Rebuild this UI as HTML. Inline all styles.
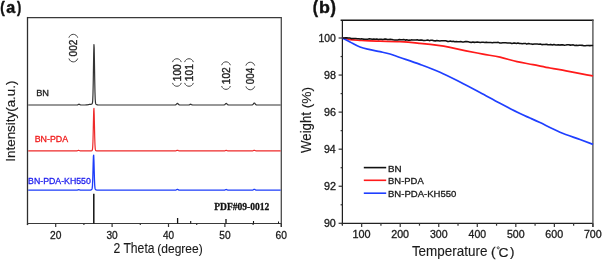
<!DOCTYPE html>
<html><head><meta charset="utf-8"><style>
html,body{margin:0;padding:0;background:#fff;}
svg{display:block;will-change:transform;}
</style></head><body>
<svg width="602" height="260" viewBox="0 0 602 260">
<line x1="27.5" y1="17.6" x2="281.3" y2="17.6" stroke="#3a3a3a" stroke-width="1.3"/>
<line x1="27.5" y1="16.95" x2="27.5" y2="225.0" stroke="#2e2e2e" stroke-width="1.3"/>
<line x1="27.0" y1="223.5" x2="281.3" y2="223.5" stroke="#3a3a3a" stroke-width="1.2"/>
<line x1="281.3" y1="16.95" x2="281.3" y2="227.0" stroke="#4a4a4a" stroke-width="1.3"/>
<line x1="27.50" y1="223.5" x2="27.50" y2="225.10" stroke="#333" stroke-width="1.2"/>
<line x1="55.70" y1="223.5" x2="55.70" y2="227.00" stroke="#333" stroke-width="1.2"/>
<line x1="83.90" y1="223.5" x2="83.90" y2="225.10" stroke="#333" stroke-width="1.2"/>
<line x1="112.10" y1="223.5" x2="112.10" y2="227.00" stroke="#333" stroke-width="1.2"/>
<line x1="140.30" y1="223.5" x2="140.30" y2="225.10" stroke="#333" stroke-width="1.2"/>
<line x1="168.50" y1="223.5" x2="168.50" y2="227.00" stroke="#333" stroke-width="1.2"/>
<line x1="196.70" y1="223.5" x2="196.70" y2="225.10" stroke="#333" stroke-width="1.2"/>
<line x1="224.90" y1="223.5" x2="224.90" y2="227.00" stroke="#333" stroke-width="1.2"/>
<line x1="253.10" y1="223.5" x2="253.10" y2="225.10" stroke="#333" stroke-width="1.2"/>
<line x1="281.30" y1="223.5" x2="281.30" y2="227.00" stroke="#333" stroke-width="1.2"/>
<text transform="matrix(0.9553 0 0 1 49.934 238.600)" font-family="Liberation Sans, sans-serif" font-weight="normal" font-size="10.745" fill="#1a1a1a" stroke="#1a1a1a" stroke-width="0.30">20</text>
<text transform="matrix(0.9440 0 0 1 106.464 238.600)" font-family="Liberation Sans, sans-serif" font-weight="normal" font-size="10.745" fill="#1a1a1a" stroke="#1a1a1a" stroke-width="0.30">30</text>
<text transform="matrix(0.9304 0 0 1 163.021 238.600)" font-family="Liberation Sans, sans-serif" font-weight="normal" font-size="10.745" fill="#1a1a1a" stroke="#1a1a1a" stroke-width="0.30">40</text>
<text transform="matrix(0.9458 0 0 1 219.243 238.600)" font-family="Liberation Sans, sans-serif" font-weight="normal" font-size="10.745" fill="#1a1a1a" stroke="#1a1a1a" stroke-width="0.30">50</text>
<text transform="matrix(0.9557 0 0 1 275.529 238.600)" font-family="Liberation Sans, sans-serif" font-weight="normal" font-size="10.745" fill="#1a1a1a" stroke="#1a1a1a" stroke-width="0.30">60</text>
<path d="M28.20 105.00 L28.45 105.00 L28.70 105.00 L28.95 105.00 L29.20 105.00 L29.45 105.00 L29.70 105.00 L29.95 105.00 L30.20 105.00 L30.45 105.00 L30.70 105.00 L30.95 105.00 L31.20 105.00 L31.45 105.00 L31.70 105.00 L31.95 105.00 L32.20 105.00 L32.45 105.00 L32.70 105.00 L32.95 105.00 L33.20 105.00 L33.45 105.00 L33.70 105.00 L33.95 105.00 L34.20 105.00 L34.45 105.00 L34.70 105.00 L34.95 105.00 L35.20 105.00 L35.45 105.00 L35.70 105.00 L35.95 105.00 L36.20 105.00 L36.45 105.00 L36.70 105.00 L36.95 105.00 L37.20 105.00 L37.45 105.00 L37.70 105.00 L37.95 105.00 L38.20 105.00 L38.45 105.00 L38.70 105.00 L38.95 105.00 L39.20 105.00 L39.45 105.00 L39.70 105.00 L39.95 105.00 L40.20 105.00 L40.45 105.00 L40.70 105.00 L40.95 105.00 L41.20 105.00 L41.45 105.00 L41.70 105.00 L41.95 105.00 L42.20 105.00 L42.45 105.00 L42.70 105.00 L42.95 105.00 L43.20 105.00 L43.45 105.00 L43.70 105.00 L43.95 105.00 L44.20 105.00 L44.45 105.00 L44.70 105.00 L44.95 105.00 L45.20 105.00 L45.45 105.00 L45.70 105.00 L45.95 105.00 L46.20 105.00 L46.45 105.00 L46.70 105.00 L46.95 105.00 L47.20 105.00 L47.45 105.00 L47.70 105.00 L47.95 105.00 L48.20 105.00 L48.45 105.00 L48.70 105.00 L48.95 105.00 L49.20 105.00 L49.45 105.00 L49.70 105.00 L49.95 105.00 L50.20 105.00 L50.45 105.00 L50.70 105.00 L50.95 105.00 L51.20 105.00 L51.45 105.00 L51.70 105.00 L51.95 105.00 L52.20 105.00 L52.45 105.00 L52.70 105.00 L52.95 105.00 L53.20 105.00 L53.45 105.00 L53.70 105.00 L53.95 105.00 L54.20 105.00 L54.45 105.00 L54.70 105.00 L54.95 105.00 L55.20 105.00 L55.45 105.00 L55.70 105.00 L55.95 105.00 L56.20 105.00 L56.45 105.00 L56.70 105.00 L56.95 105.00 L57.20 105.00 L57.45 105.00 L57.70 105.00 L57.95 105.00 L58.20 105.00 L58.45 105.00 L58.70 105.00 L58.95 105.00 L59.20 105.00 L59.45 105.00 L59.70 105.00 L59.95 105.00 L60.20 105.00 L60.45 105.00 L60.70 105.00 L60.95 105.00 L61.20 105.00 L61.45 105.00 L61.70 105.00 L61.95 105.00 L62.20 105.00 L62.45 105.00 L62.70 105.00 L62.95 105.00 L63.20 105.00 L63.45 105.00 L63.70 105.00 L63.95 105.00 L64.20 105.00 L64.45 105.00 L64.70 105.00 L64.95 105.00 L65.20 105.00 L65.45 105.00 L65.70 105.00 L65.95 105.00 L66.20 105.00 L66.45 105.00 L66.70 105.00 L66.95 105.00 L67.20 105.00 L67.45 105.00 L67.70 105.00 L67.95 105.00 L68.20 105.00 L68.45 105.00 L68.70 105.00 L68.95 105.00 L69.20 105.00 L69.45 105.00 L69.70 105.00 L69.95 105.00 L70.20 105.00 L70.45 105.00 L70.70 105.00 L70.95 105.00 L71.20 105.00 L71.45 105.00 L71.70 105.00 L71.95 105.00 L72.20 105.00 L72.45 105.00 L72.70 105.00 L72.95 105.00 L73.20 105.00 L73.45 105.00 L73.70 105.00 L73.95 105.00 L74.20 105.00 L74.45 105.00 L74.70 105.00 L74.95 105.00 L75.20 105.00 L75.45 105.00 L75.70 105.00 L75.95 105.00 L76.20 105.00 L76.45 105.00 L76.70 105.00 L76.95 104.99 L77.20 104.97 L77.45 104.93 L77.70 104.85 L77.95 104.73 L78.20 104.58 L78.45 104.41 L78.70 104.27 L78.95 104.20 L79.20 104.23 L79.45 104.35 L79.70 104.51 L79.95 104.68 L80.20 104.81 L80.45 104.90 L80.70 104.96 L80.95 104.98 L81.20 104.99 L81.45 105.00 L81.70 105.00 L81.95 105.00 L82.20 105.00 L82.45 105.00 L82.70 105.00 L82.95 105.00 L83.20 105.00 L83.45 105.00 L83.70 105.00 L83.95 105.00 L84.20 105.00 L84.45 105.00 L84.70 104.99 L84.95 104.99 L85.20 104.98 L85.45 104.98 L85.70 104.97 L85.95 104.96 L86.20 104.94 L86.45 104.92 L86.70 104.89 L86.95 104.86 L87.20 104.83 L87.45 104.79 L87.70 104.74 L87.95 104.69 L88.20 104.64 L88.45 104.59 L88.70 104.54 L88.95 104.49 L89.20 104.45 L89.45 104.42 L89.70 104.39 L89.95 104.37 L90.20 104.35 L90.45 104.33 L90.70 104.31 L90.95 104.29 L91.20 104.24 L91.45 104.18 L91.70 104.08 L91.95 103.94 L92.20 103.65 L92.45 102.85 L92.70 100.60 L92.95 95.08 L93.20 84.40 L93.45 68.83 L93.70 53.04 L93.95 44.61 L94.20 48.41 L94.45 62.19 L94.70 78.69 L94.95 91.61 L95.20 99.07 L95.45 102.42 L95.70 103.68 L95.95 104.16 L96.20 104.39 L96.45 104.55 L96.70 104.68 L96.95 104.77 L97.20 104.85 L97.45 104.90 L97.70 104.93 L97.95 104.96 L98.20 104.98 L98.45 104.99 L98.70 104.99 L98.95 105.00 L99.20 105.00 L99.45 105.00 L99.70 105.00 L99.95 105.00 L100.20 105.00 L100.45 105.00 L100.70 105.00 L100.95 105.00 L101.20 105.00 L101.45 105.00 L101.70 105.00 L101.95 105.00 L102.20 105.00 L102.45 105.00 L102.70 105.00 L102.95 105.00 L103.20 105.00 L103.45 105.00 L103.70 105.00 L103.95 105.00 L104.20 105.00 L104.45 105.00 L104.70 105.00 L104.95 105.00 L105.20 105.00 L105.45 105.00 L105.70 105.00 L105.95 105.00 L106.20 105.00 L106.45 105.00 L106.70 105.00 L106.95 105.00 L107.20 105.00 L107.45 105.00 L107.70 105.00 L107.95 105.00 L108.20 105.00 L108.45 105.00 L108.70 105.00 L108.95 105.00 L109.20 105.00 L109.45 105.00 L109.70 105.00 L109.95 105.00 L110.20 105.00 L110.45 105.00 L110.70 105.00 L110.95 105.00 L111.20 105.00 L111.45 105.00 L111.70 105.00 L111.95 105.00 L112.20 105.00 L112.45 105.00 L112.70 105.00 L112.95 105.00 L113.20 105.00 L113.45 105.00 L113.70 105.00 L113.95 105.00 L114.20 105.00 L114.45 105.00 L114.70 105.00 L114.95 105.00 L115.20 105.00 L115.45 105.00 L115.70 105.00 L115.95 105.00 L116.20 105.00 L116.45 105.00 L116.70 105.00 L116.95 105.00 L117.20 105.00 L117.45 105.00 L117.70 105.00 L117.95 105.00 L118.20 105.00 L118.45 105.00 L118.70 105.00 L118.95 105.00 L119.20 105.00 L119.45 105.00 L119.70 105.00 L119.95 105.00 L120.20 105.00 L120.45 105.00 L120.70 105.00 L120.95 105.00 L121.20 105.00 L121.45 105.00 L121.70 105.00 L121.95 105.00 L122.20 105.00 L122.45 105.00 L122.70 105.00 L122.95 105.00 L123.20 105.00 L123.45 105.00 L123.70 105.00 L123.95 105.00 L124.20 105.00 L124.45 105.00 L124.70 105.00 L124.95 105.00 L125.20 105.00 L125.45 105.00 L125.70 105.00 L125.95 105.00 L126.20 105.00 L126.45 105.00 L126.70 105.00 L126.95 105.00 L127.20 105.00 L127.45 105.00 L127.70 105.00 L127.95 105.00 L128.20 105.00 L128.45 105.00 L128.70 105.00 L128.95 105.00 L129.20 105.00 L129.45 105.00 L129.70 105.00 L129.95 105.00 L130.20 105.00 L130.45 105.00 L130.70 105.00 L130.95 105.00 L131.20 105.00 L131.45 105.00 L131.70 105.00 L131.95 105.00 L132.20 105.00 L132.45 105.00 L132.70 105.00 L132.95 105.00 L133.20 105.00 L133.45 105.00 L133.70 105.00 L133.95 105.00 L134.20 105.00 L134.45 105.00 L134.70 105.00 L134.95 105.00 L135.20 105.00 L135.45 105.00 L135.70 105.00 L135.95 105.00 L136.20 105.00 L136.45 105.00 L136.70 105.00 L136.95 105.00 L137.20 105.00 L137.45 105.00 L137.70 105.00 L137.95 105.00 L138.20 105.00 L138.45 105.00 L138.70 105.00 L138.95 105.00 L139.20 105.00 L139.45 105.00 L139.70 105.00 L139.95 105.00 L140.20 105.00 L140.45 105.00 L140.70 105.00 L140.95 105.00 L141.20 105.00 L141.45 105.00 L141.70 105.00 L141.95 105.00 L142.20 105.00 L142.45 105.00 L142.70 105.00 L142.95 105.00 L143.20 105.00 L143.45 105.00 L143.70 105.00 L143.95 105.00 L144.20 105.00 L144.45 105.00 L144.70 105.00 L144.95 105.00 L145.20 105.00 L145.45 105.00 L145.70 105.00 L145.95 105.00 L146.20 105.00 L146.45 105.00 L146.70 105.00 L146.95 105.00 L147.20 105.00 L147.45 105.00 L147.70 105.00 L147.95 105.00 L148.20 105.00 L148.45 105.00 L148.70 105.00 L148.95 105.00 L149.20 105.00 L149.45 105.00 L149.70 105.00 L149.95 105.00 L150.20 105.00 L150.45 105.00 L150.70 105.00 L150.95 105.00 L151.20 105.00 L151.45 105.00 L151.70 105.00 L151.95 105.00 L152.20 105.00 L152.45 105.00 L152.70 105.00 L152.95 105.00 L153.20 105.00 L153.45 105.00 L153.70 105.00 L153.95 105.00 L154.20 105.00 L154.45 105.00 L154.70 105.00 L154.95 105.00 L155.20 105.00 L155.45 105.00 L155.70 105.00 L155.95 105.00 L156.20 105.00 L156.45 105.00 L156.70 105.00 L156.95 105.00 L157.20 105.00 L157.45 105.00 L157.70 105.00 L157.95 105.00 L158.20 105.00 L158.45 105.00 L158.70 105.00 L158.95 105.00 L159.20 105.00 L159.45 105.00 L159.70 105.00 L159.95 105.00 L160.20 105.00 L160.45 105.00 L160.70 105.00 L160.95 105.00 L161.20 105.00 L161.45 105.00 L161.70 105.00 L161.95 105.00 L162.20 105.00 L162.45 105.00 L162.70 105.00 L162.95 105.00 L163.20 105.00 L163.45 105.00 L163.70 105.00 L163.95 105.00 L164.20 105.00 L164.45 105.00 L164.70 105.00 L164.95 105.00 L165.20 105.00 L165.45 105.00 L165.70 105.00 L165.95 105.00 L166.20 105.00 L166.45 105.00 L166.70 105.00 L166.95 105.00 L167.20 105.00 L167.45 105.00 L167.70 105.00 L167.95 105.00 L168.20 105.00 L168.45 105.00 L168.70 105.00 L168.95 105.00 L169.20 105.00 L169.45 105.00 L169.70 105.00 L169.95 105.00 L170.20 105.00 L170.45 105.00 L170.70 105.00 L170.95 105.00 L171.20 105.00 L171.45 105.00 L171.70 105.00 L171.95 105.00 L172.20 105.00 L172.45 105.00 L172.70 105.00 L172.95 105.00 L173.20 105.00 L173.45 105.00 L173.70 105.00 L173.95 105.00 L174.20 105.00 L174.45 105.00 L174.70 104.99 L174.95 104.98 L175.20 104.94 L175.45 104.89 L175.70 104.78 L175.95 104.63 L176.20 104.41 L176.45 104.15 L176.70 103.86 L176.95 103.61 L177.20 103.44 L177.45 103.40 L177.70 103.50 L177.95 103.70 L178.20 103.97 L178.45 104.26 L178.70 104.51 L178.95 104.70 L179.20 104.83 L179.45 104.91 L179.70 104.96 L179.95 104.98 L180.20 104.99 L180.45 105.00 L180.70 105.00 L180.95 105.00 L181.20 105.00 L181.45 105.00 L181.70 105.00 L181.95 105.00 L182.20 105.00 L182.45 105.00 L182.70 105.00 L182.95 105.00 L183.20 105.00 L183.45 105.00 L183.70 105.00 L183.95 105.00 L184.20 105.00 L184.45 105.00 L184.70 105.00 L184.95 105.00 L185.20 105.00 L185.45 105.00 L185.70 105.00 L185.95 105.00 L186.20 105.00 L186.45 105.00 L186.70 105.00 L186.95 105.00 L187.20 105.00 L187.45 105.00 L187.70 105.00 L187.95 105.00 L188.20 105.00 L188.45 104.99 L188.70 104.98 L188.95 104.95 L189.20 104.89 L189.45 104.79 L189.70 104.64 L189.95 104.48 L190.20 104.32 L190.45 104.22 L190.70 104.21 L190.95 104.29 L191.20 104.44 L191.45 104.61 L191.70 104.76 L191.95 104.87 L192.20 104.94 L192.45 104.97 L192.70 104.99 L192.95 105.00 L193.20 105.00 L193.45 105.00 L193.70 105.00 L193.95 105.00 L194.20 105.00 L194.45 105.00 L194.70 105.00 L194.95 105.00 L195.20 105.00 L195.45 105.00 L195.70 105.00 L195.95 105.00 L196.20 105.00 L196.45 105.00 L196.70 105.00 L196.95 105.00 L197.20 105.00 L197.45 105.00 L197.70 105.00 L197.95 105.00 L198.20 105.00 L198.45 105.00 L198.70 105.00 L198.95 105.00 L199.20 105.00 L199.45 105.00 L199.70 105.00 L199.95 105.00 L200.20 105.00 L200.45 105.00 L200.70 105.00 L200.95 105.00 L201.20 105.00 L201.45 105.00 L201.70 105.00 L201.95 105.00 L202.20 105.00 L202.45 105.00 L202.70 105.00 L202.95 105.00 L203.20 105.00 L203.45 105.00 L203.70 105.00 L203.95 105.00 L204.20 105.00 L204.45 105.00 L204.70 105.00 L204.95 105.00 L205.20 105.00 L205.45 105.00 L205.70 105.00 L205.95 105.00 L206.20 105.00 L206.45 105.00 L206.70 105.00 L206.95 105.00 L207.20 105.00 L207.45 105.00 L207.70 105.00 L207.95 105.00 L208.20 105.00 L208.45 105.00 L208.70 105.00 L208.95 105.00 L209.20 105.00 L209.45 105.00 L209.70 105.00 L209.95 105.00 L210.20 105.00 L210.45 105.00 L210.70 105.00 L210.95 105.00 L211.20 105.00 L211.45 105.00 L211.70 105.00 L211.95 105.00 L212.20 105.00 L212.45 105.00 L212.70 105.00 L212.95 105.00 L213.20 105.00 L213.45 105.00 L213.70 105.00 L213.95 105.00 L214.20 105.00 L214.45 105.00 L214.70 105.00 L214.95 105.00 L215.20 105.00 L215.45 105.00 L215.70 105.00 L215.95 105.00 L216.20 105.00 L216.45 105.00 L216.70 105.00 L216.95 105.00 L217.20 105.00 L217.45 105.00 L217.70 105.00 L217.95 105.00 L218.20 105.00 L218.45 105.00 L218.70 105.00 L218.95 105.00 L219.20 105.00 L219.45 105.00 L219.70 105.00 L219.95 105.00 L220.20 105.00 L220.45 105.00 L220.70 105.00 L220.95 105.00 L221.20 105.00 L221.45 105.00 L221.70 105.00 L221.95 105.00 L222.20 105.00 L222.45 105.00 L222.70 105.00 L222.95 105.00 L223.20 105.00 L223.45 104.99 L223.70 104.98 L223.95 104.95 L224.20 104.90 L224.45 104.81 L224.70 104.66 L224.95 104.46 L225.20 104.20 L225.45 103.92 L225.70 103.66 L225.95 103.47 L226.20 103.40 L226.45 103.47 L226.70 103.66 L226.95 103.92 L227.20 104.20 L227.45 104.46 L227.70 104.66 L227.95 104.81 L228.20 104.90 L228.45 104.95 L228.70 104.98 L228.95 104.99 L229.20 105.00 L229.45 105.00 L229.70 105.00 L229.95 105.00 L230.20 105.00 L230.45 105.00 L230.70 105.00 L230.95 105.00 L231.20 105.00 L231.45 105.00 L231.70 105.00 L231.95 105.00 L232.20 105.00 L232.45 105.00 L232.70 105.00 L232.95 105.00 L233.20 105.00 L233.45 105.00 L233.70 105.00 L233.95 105.00 L234.20 105.00 L234.45 105.00 L234.70 105.00 L234.95 105.00 L235.20 105.00 L235.45 105.00 L235.70 105.00 L235.95 105.00 L236.20 105.00 L236.45 105.00 L236.70 105.00 L236.95 105.00 L237.20 105.00 L237.45 105.00 L237.70 105.00 L237.95 105.00 L238.20 105.00 L238.45 105.00 L238.70 105.00 L238.95 105.00 L239.20 105.00 L239.45 105.00 L239.70 105.00 L239.95 105.00 L240.20 105.00 L240.45 105.00 L240.70 105.00 L240.95 105.00 L241.20 105.00 L241.45 105.00 L241.70 105.00 L241.95 105.00 L242.20 105.00 L242.45 105.00 L242.70 105.00 L242.95 105.00 L243.20 105.00 L243.45 105.00 L243.70 105.00 L243.95 105.00 L244.20 105.00 L244.45 105.00 L244.70 105.00 L244.95 105.00 L245.20 105.00 L245.45 105.00 L245.70 105.00 L245.95 105.00 L246.20 105.00 L246.45 105.00 L246.70 105.00 L246.95 105.00 L247.20 105.00 L247.45 105.00 L247.70 105.00 L247.95 105.00 L248.20 105.00 L248.45 105.00 L248.70 105.00 L248.95 105.00 L249.20 105.00 L249.45 105.00 L249.70 105.00 L249.95 105.00 L250.20 105.00 L250.45 105.00 L250.70 105.00 L250.95 105.00 L251.20 105.00 L251.45 104.99 L251.70 104.98 L251.95 104.96 L252.20 104.91 L252.45 104.81 L252.70 104.66 L252.95 104.44 L253.20 104.14 L253.45 103.79 L253.70 103.44 L253.95 103.16 L254.20 103.01 L254.45 103.03 L254.70 103.21 L254.95 103.51 L255.20 103.86 L255.45 104.20 L255.70 104.49 L255.95 104.70 L256.20 104.84 L256.45 104.92 L256.70 104.96 L256.95 104.98 L257.20 104.99 L257.45 105.00 L257.70 105.00 L257.95 105.00 L258.20 105.00 L258.45 105.00 L258.70 105.00 L258.95 105.00 L259.20 105.00 L259.45 105.00 L259.70 105.00 L259.95 105.00 L260.20 105.00 L260.45 105.00 L260.70 105.00 L260.95 105.00 L261.20 105.00 L261.45 105.00 L261.70 105.00 L261.95 105.00 L262.20 105.00 L262.45 105.00 L262.70 105.00 L262.95 105.00 L263.20 105.00 L263.45 105.00 L263.70 105.00 L263.95 105.00 L264.20 105.00 L264.45 105.00 L264.70 105.00 L264.95 105.00 L265.20 105.00 L265.45 105.00 L265.70 105.00 L265.95 105.00 L266.20 105.00 L266.45 105.00 L266.70 105.00 L266.95 105.00 L267.20 105.00 L267.45 105.00 L267.70 105.00 L267.95 105.00 L268.20 105.00 L268.45 105.00 L268.70 105.00 L268.95 105.00 L269.20 105.00 L269.45 105.00 L269.70 105.00 L269.95 105.00 L270.20 105.00 L270.45 105.00 L270.70 105.00 L270.95 105.00 L271.20 105.00 L271.45 105.00 L271.70 105.00 L271.95 105.00 L272.20 105.00 L272.45 105.00 L272.70 105.00 L272.95 105.00 L273.20 105.00 L273.45 105.00 L273.70 105.00 L273.95 105.00 L274.20 105.00 L274.45 105.00 L274.70 105.00 L274.95 105.00 L275.20 105.00 L275.45 105.00 L275.70 105.00 L275.95 105.00 L276.20 105.00 L276.45 105.00 L276.70 105.00 L276.95 105.00 L277.20 105.00 L277.45 105.00 L277.70 105.00 L277.95 105.00 L278.20 105.00 L278.45 105.00 L278.70 105.00 L278.95 105.00 L279.20 105.00 L279.45 105.00 L279.70 105.00 L279.95 105.00 L280.20 105.00 L280.45 105.00 L280.70 105.00" fill="none" stroke="#333" stroke-width="1.2" stroke-linejoin="round"/>
<path d="M28.20 150.90 L28.45 150.90 L28.70 150.90 L28.95 150.90 L29.20 150.90 L29.45 150.90 L29.70 150.90 L29.95 150.90 L30.20 150.90 L30.45 150.90 L30.70 150.90 L30.95 150.90 L31.20 150.90 L31.45 150.90 L31.70 150.90 L31.95 150.90 L32.20 150.90 L32.45 150.90 L32.70 150.90 L32.95 150.90 L33.20 150.90 L33.45 150.90 L33.70 150.90 L33.95 150.90 L34.20 150.90 L34.45 150.90 L34.70 150.90 L34.95 150.90 L35.20 150.90 L35.45 150.90 L35.70 150.90 L35.95 150.90 L36.20 150.90 L36.45 150.90 L36.70 150.90 L36.95 150.90 L37.20 150.90 L37.45 150.90 L37.70 150.90 L37.95 150.90 L38.20 150.90 L38.45 150.90 L38.70 150.90 L38.95 150.90 L39.20 150.90 L39.45 150.90 L39.70 150.90 L39.95 150.90 L40.20 150.90 L40.45 150.90 L40.70 150.90 L40.95 150.90 L41.20 150.90 L41.45 150.90 L41.70 150.90 L41.95 150.90 L42.20 150.90 L42.45 150.90 L42.70 150.90 L42.95 150.90 L43.20 150.90 L43.45 150.90 L43.70 150.90 L43.95 150.90 L44.20 150.90 L44.45 150.90 L44.70 150.90 L44.95 150.90 L45.20 150.90 L45.45 150.90 L45.70 150.90 L45.95 150.90 L46.20 150.90 L46.45 150.90 L46.70 150.90 L46.95 150.90 L47.20 150.90 L47.45 150.90 L47.70 150.90 L47.95 150.90 L48.20 150.90 L48.45 150.90 L48.70 150.90 L48.95 150.90 L49.20 150.90 L49.45 150.90 L49.70 150.90 L49.95 150.90 L50.20 150.90 L50.45 150.90 L50.70 150.90 L50.95 150.90 L51.20 150.90 L51.45 150.90 L51.70 150.90 L51.95 150.90 L52.20 150.90 L52.45 150.90 L52.70 150.90 L52.95 150.90 L53.20 150.90 L53.45 150.90 L53.70 150.90 L53.95 150.90 L54.20 150.90 L54.45 150.90 L54.70 150.90 L54.95 150.90 L55.20 150.90 L55.45 150.90 L55.70 150.90 L55.95 150.90 L56.20 150.90 L56.45 150.90 L56.70 150.90 L56.95 150.90 L57.20 150.90 L57.45 150.90 L57.70 150.90 L57.95 150.90 L58.20 150.90 L58.45 150.90 L58.70 150.90 L58.95 150.90 L59.20 150.90 L59.45 150.90 L59.70 150.90 L59.95 150.90 L60.20 150.90 L60.45 150.90 L60.70 150.90 L60.95 150.90 L61.20 150.90 L61.45 150.90 L61.70 150.90 L61.95 150.90 L62.20 150.90 L62.45 150.90 L62.70 150.90 L62.95 150.90 L63.20 150.90 L63.45 150.90 L63.70 150.90 L63.95 150.90 L64.20 150.90 L64.45 150.90 L64.70 150.90 L64.95 150.90 L65.20 150.90 L65.45 150.90 L65.70 150.90 L65.95 150.90 L66.20 150.90 L66.45 150.90 L66.70 150.90 L66.95 150.90 L67.20 150.90 L67.45 150.90 L67.70 150.90 L67.95 150.90 L68.20 150.90 L68.45 150.90 L68.70 150.90 L68.95 150.90 L69.20 150.90 L69.45 150.90 L69.70 150.90 L69.95 150.90 L70.20 150.90 L70.45 150.90 L70.70 150.90 L70.95 150.90 L71.20 150.90 L71.45 150.90 L71.70 150.90 L71.95 150.90 L72.20 150.90 L72.45 150.90 L72.70 150.90 L72.95 150.90 L73.20 150.90 L73.45 150.90 L73.70 150.90 L73.95 150.90 L74.20 150.90 L74.45 150.90 L74.70 150.90 L74.95 150.90 L75.20 150.90 L75.45 150.90 L75.70 150.90 L75.95 150.89 L76.20 150.89 L76.45 150.87 L76.70 150.85 L76.95 150.81 L77.20 150.75 L77.45 150.67 L77.70 150.58 L77.95 150.49 L78.20 150.43 L78.45 150.40 L78.70 150.41 L78.95 150.47 L79.20 150.54 L79.45 150.63 L79.70 150.72 L79.95 150.78 L80.20 150.83 L80.45 150.86 L80.70 150.88 L80.95 150.89 L81.20 150.90 L81.45 150.90 L81.70 150.90 L81.95 150.90 L82.20 150.90 L82.45 150.90 L82.70 150.90 L82.95 150.90 L83.20 150.90 L83.45 150.90 L83.70 150.90 L83.95 150.90 L84.20 150.90 L84.45 150.90 L84.70 150.90 L84.95 150.90 L85.20 150.90 L85.45 150.90 L85.70 150.90 L85.95 150.90 L86.20 150.90 L86.45 150.90 L86.70 150.90 L86.95 150.90 L87.20 150.90 L87.45 150.90 L87.70 150.90 L87.95 150.90 L88.20 150.90 L88.45 150.90 L88.70 150.90 L88.95 150.90 L89.20 150.90 L89.45 150.90 L89.70 150.90 L89.95 150.90 L90.20 150.90 L90.45 150.89 L90.70 150.88 L90.95 150.87 L91.20 150.84 L91.45 150.80 L91.70 150.74 L91.95 150.63 L92.20 150.33 L92.45 149.47 L92.70 147.10 L92.95 141.80 L93.20 132.58 L93.45 120.81 L93.70 110.98 L93.95 108.29 L94.20 114.31 L94.45 125.60 L94.70 136.72 L94.95 144.36 L95.20 148.31 L95.45 149.92 L95.70 150.49 L95.95 150.68 L96.20 150.77 L96.45 150.82 L96.70 150.85 L96.95 150.87 L97.20 150.89 L97.45 150.89 L97.70 150.90 L97.95 150.90 L98.20 150.90 L98.45 150.90 L98.70 150.90 L98.95 150.90 L99.20 150.90 L99.45 150.90 L99.70 150.90 L99.95 150.90 L100.20 150.90 L100.45 150.90 L100.70 150.90 L100.95 150.90 L101.20 150.90 L101.45 150.90 L101.70 150.90 L101.95 150.90 L102.20 150.90 L102.45 150.90 L102.70 150.90 L102.95 150.90 L103.20 150.90 L103.45 150.90 L103.70 150.90 L103.95 150.90 L104.20 150.90 L104.45 150.90 L104.70 150.90 L104.95 150.90 L105.20 150.90 L105.45 150.90 L105.70 150.90 L105.95 150.90 L106.20 150.90 L106.45 150.90 L106.70 150.90 L106.95 150.90 L107.20 150.90 L107.45 150.90 L107.70 150.90 L107.95 150.90 L108.20 150.90 L108.45 150.90 L108.70 150.90 L108.95 150.90 L109.20 150.90 L109.45 150.90 L109.70 150.90 L109.95 150.90 L110.20 150.90 L110.45 150.90 L110.70 150.90 L110.95 150.90 L111.20 150.90 L111.45 150.90 L111.70 150.90 L111.95 150.90 L112.20 150.90 L112.45 150.90 L112.70 150.90 L112.95 150.90 L113.20 150.90 L113.45 150.90 L113.70 150.90 L113.95 150.90 L114.20 150.90 L114.45 150.90 L114.70 150.90 L114.95 150.90 L115.20 150.90 L115.45 150.90 L115.70 150.90 L115.95 150.90 L116.20 150.90 L116.45 150.90 L116.70 150.90 L116.95 150.90 L117.20 150.90 L117.45 150.90 L117.70 150.90 L117.95 150.90 L118.20 150.90 L118.45 150.90 L118.70 150.90 L118.95 150.90 L119.20 150.90 L119.45 150.90 L119.70 150.90 L119.95 150.90 L120.20 150.90 L120.45 150.90 L120.70 150.90 L120.95 150.90 L121.20 150.90 L121.45 150.90 L121.70 150.90 L121.95 150.90 L122.20 150.90 L122.45 150.90 L122.70 150.90 L122.95 150.90 L123.20 150.90 L123.45 150.90 L123.70 150.90 L123.95 150.90 L124.20 150.90 L124.45 150.90 L124.70 150.90 L124.95 150.90 L125.20 150.90 L125.45 150.90 L125.70 150.90 L125.95 150.90 L126.20 150.90 L126.45 150.90 L126.70 150.90 L126.95 150.90 L127.20 150.90 L127.45 150.90 L127.70 150.90 L127.95 150.90 L128.20 150.90 L128.45 150.90 L128.70 150.90 L128.95 150.90 L129.20 150.90 L129.45 150.90 L129.70 150.90 L129.95 150.90 L130.20 150.90 L130.45 150.90 L130.70 150.90 L130.95 150.90 L131.20 150.90 L131.45 150.90 L131.70 150.90 L131.95 150.90 L132.20 150.90 L132.45 150.90 L132.70 150.90 L132.95 150.90 L133.20 150.90 L133.45 150.90 L133.70 150.90 L133.95 150.90 L134.20 150.90 L134.45 150.90 L134.70 150.90 L134.95 150.90 L135.20 150.90 L135.45 150.90 L135.70 150.90 L135.95 150.90 L136.20 150.90 L136.45 150.90 L136.70 150.90 L136.95 150.90 L137.20 150.90 L137.45 150.90 L137.70 150.90 L137.95 150.90 L138.20 150.90 L138.45 150.90 L138.70 150.90 L138.95 150.90 L139.20 150.90 L139.45 150.90 L139.70 150.90 L139.95 150.90 L140.20 150.90 L140.45 150.90 L140.70 150.90 L140.95 150.90 L141.20 150.90 L141.45 150.90 L141.70 150.90 L141.95 150.90 L142.20 150.90 L142.45 150.90 L142.70 150.90 L142.95 150.90 L143.20 150.90 L143.45 150.90 L143.70 150.90 L143.95 150.90 L144.20 150.90 L144.45 150.90 L144.70 150.90 L144.95 150.90 L145.20 150.90 L145.45 150.90 L145.70 150.90 L145.95 150.90 L146.20 150.90 L146.45 150.90 L146.70 150.90 L146.95 150.90 L147.20 150.90 L147.45 150.90 L147.70 150.90 L147.95 150.90 L148.20 150.90 L148.45 150.90 L148.70 150.90 L148.95 150.90 L149.20 150.90 L149.45 150.90 L149.70 150.90 L149.95 150.90 L150.20 150.90 L150.45 150.90 L150.70 150.90 L150.95 150.90 L151.20 150.90 L151.45 150.90 L151.70 150.90 L151.95 150.90 L152.20 150.90 L152.45 150.90 L152.70 150.90 L152.95 150.90 L153.20 150.90 L153.45 150.90 L153.70 150.90 L153.95 150.90 L154.20 150.90 L154.45 150.90 L154.70 150.90 L154.95 150.90 L155.20 150.90 L155.45 150.90 L155.70 150.90 L155.95 150.90 L156.20 150.90 L156.45 150.90 L156.70 150.90 L156.95 150.90 L157.20 150.90 L157.45 150.90 L157.70 150.90 L157.95 150.90 L158.20 150.90 L158.45 150.90 L158.70 150.90 L158.95 150.90 L159.20 150.90 L159.45 150.90 L159.70 150.90 L159.95 150.90 L160.20 150.90 L160.45 150.90 L160.70 150.90 L160.95 150.90 L161.20 150.90 L161.45 150.90 L161.70 150.90 L161.95 150.90 L162.20 150.90 L162.45 150.90 L162.70 150.90 L162.95 150.90 L163.20 150.90 L163.45 150.90 L163.70 150.90 L163.95 150.90 L164.20 150.90 L164.45 150.90 L164.70 150.90 L164.95 150.90 L165.20 150.90 L165.45 150.90 L165.70 150.90 L165.95 150.90 L166.20 150.90 L166.45 150.90 L166.70 150.90 L166.95 150.90 L167.20 150.90 L167.45 150.90 L167.70 150.90 L167.95 150.90 L168.20 150.90 L168.45 150.90 L168.70 150.90 L168.95 150.90 L169.20 150.90 L169.45 150.90 L169.70 150.90 L169.95 150.90 L170.20 150.90 L170.45 150.90 L170.70 150.90 L170.95 150.90 L171.20 150.90 L171.45 150.90 L171.70 150.90 L171.95 150.90 L172.20 150.90 L172.45 150.90 L172.70 150.90 L172.95 150.90 L173.20 150.90 L173.45 150.90 L173.70 150.90 L173.95 150.90 L174.20 150.90 L174.45 150.90 L174.70 150.90 L174.95 150.89 L175.20 150.88 L175.45 150.86 L175.70 150.82 L175.95 150.76 L176.20 150.68 L176.45 150.58 L176.70 150.47 L176.95 150.38 L177.20 150.32 L177.45 150.30 L177.70 150.34 L177.95 150.41 L178.20 150.52 L178.45 150.62 L178.70 150.71 L178.95 150.79 L179.20 150.84 L179.45 150.87 L179.70 150.88 L179.95 150.89 L180.20 150.90 L180.45 150.90 L180.70 150.90 L180.95 150.90 L181.20 150.90 L181.45 150.90 L181.70 150.90 L181.95 150.90 L182.20 150.90 L182.45 150.90 L182.70 150.90 L182.95 150.90 L183.20 150.90 L183.45 150.90 L183.70 150.90 L183.95 150.90 L184.20 150.90 L184.45 150.90 L184.70 150.90 L184.95 150.90 L185.20 150.90 L185.45 150.90 L185.70 150.90 L185.95 150.90 L186.20 150.90 L186.45 150.90 L186.70 150.90 L186.95 150.90 L187.20 150.90 L187.45 150.90 L187.70 150.90 L187.95 150.90 L188.20 150.90 L188.45 150.90 L188.70 150.90 L188.95 150.90 L189.20 150.90 L189.45 150.90 L189.70 150.90 L189.95 150.90 L190.20 150.90 L190.45 150.90 L190.70 150.90 L190.95 150.90 L191.20 150.90 L191.45 150.90 L191.70 150.90 L191.95 150.90 L192.20 150.90 L192.45 150.90 L192.70 150.90 L192.95 150.90 L193.20 150.90 L193.45 150.90 L193.70 150.90 L193.95 150.90 L194.20 150.90 L194.45 150.90 L194.70 150.90 L194.95 150.90 L195.20 150.90 L195.45 150.90 L195.70 150.90 L195.95 150.90 L196.20 150.90 L196.45 150.90 L196.70 150.90 L196.95 150.90 L197.20 150.90 L197.45 150.90 L197.70 150.90 L197.95 150.90 L198.20 150.90 L198.45 150.90 L198.70 150.90 L198.95 150.90 L199.20 150.90 L199.45 150.90 L199.70 150.90 L199.95 150.90 L200.20 150.90 L200.45 150.90 L200.70 150.90 L200.95 150.90 L201.20 150.90 L201.45 150.90 L201.70 150.90 L201.95 150.90 L202.20 150.90 L202.45 150.90 L202.70 150.90 L202.95 150.90 L203.20 150.90 L203.45 150.90 L203.70 150.90 L203.95 150.90 L204.20 150.90 L204.45 150.90 L204.70 150.90 L204.95 150.90 L205.20 150.90 L205.45 150.90 L205.70 150.90 L205.95 150.90 L206.20 150.90 L206.45 150.90 L206.70 150.90 L206.95 150.90 L207.20 150.90 L207.45 150.90 L207.70 150.90 L207.95 150.90 L208.20 150.90 L208.45 150.90 L208.70 150.90 L208.95 150.90 L209.20 150.90 L209.45 150.90 L209.70 150.90 L209.95 150.90 L210.20 150.90 L210.45 150.90 L210.70 150.90 L210.95 150.90 L211.20 150.90 L211.45 150.90 L211.70 150.90 L211.95 150.90 L212.20 150.90 L212.45 150.90 L212.70 150.90 L212.95 150.90 L213.20 150.90 L213.45 150.90 L213.70 150.90 L213.95 150.90 L214.20 150.90 L214.45 150.90 L214.70 150.90 L214.95 150.90 L215.20 150.90 L215.45 150.90 L215.70 150.90 L215.95 150.90 L216.20 150.90 L216.45 150.90 L216.70 150.90 L216.95 150.90 L217.20 150.90 L217.45 150.90 L217.70 150.90 L217.95 150.90 L218.20 150.90 L218.45 150.90 L218.70 150.90 L218.95 150.90 L219.20 150.90 L219.45 150.90 L219.70 150.90 L219.95 150.90 L220.20 150.90 L220.45 150.90 L220.70 150.90 L220.95 150.90 L221.20 150.90 L221.45 150.90 L221.70 150.90 L221.95 150.90 L222.20 150.90 L222.45 150.90 L222.70 150.90 L222.95 150.90 L223.20 150.90 L223.45 150.90 L223.70 150.89 L223.95 150.89 L224.20 150.87 L224.45 150.84 L224.70 150.80 L224.95 150.73 L225.20 150.65 L225.45 150.56 L225.70 150.48 L225.95 150.42 L226.20 150.40 L226.45 150.42 L226.70 150.48 L226.95 150.56 L227.20 150.65 L227.45 150.73 L227.70 150.80 L227.95 150.84 L228.20 150.87 L228.45 150.89 L228.70 150.89 L228.95 150.90 L229.20 150.90 L229.45 150.90 L229.70 150.90 L229.95 150.90 L230.20 150.90 L230.45 150.90 L230.70 150.90 L230.95 150.90 L231.20 150.90 L231.45 150.90 L231.70 150.90 L231.95 150.90 L232.20 150.90 L232.45 150.90 L232.70 150.90 L232.95 150.90 L233.20 150.90 L233.45 150.90 L233.70 150.90 L233.95 150.90 L234.20 150.90 L234.45 150.90 L234.70 150.90 L234.95 150.90 L235.20 150.90 L235.45 150.90 L235.70 150.90 L235.95 150.90 L236.20 150.90 L236.45 150.90 L236.70 150.90 L236.95 150.90 L237.20 150.90 L237.45 150.90 L237.70 150.90 L237.95 150.90 L238.20 150.90 L238.45 150.90 L238.70 150.90 L238.95 150.90 L239.20 150.90 L239.45 150.90 L239.70 150.90 L239.95 150.90 L240.20 150.90 L240.45 150.90 L240.70 150.90 L240.95 150.90 L241.20 150.90 L241.45 150.90 L241.70 150.90 L241.95 150.90 L242.20 150.90 L242.45 150.90 L242.70 150.90 L242.95 150.90 L243.20 150.90 L243.45 150.90 L243.70 150.90 L243.95 150.90 L244.20 150.90 L244.45 150.90 L244.70 150.90 L244.95 150.90 L245.20 150.90 L245.45 150.90 L245.70 150.90 L245.95 150.90 L246.20 150.90 L246.45 150.90 L246.70 150.90 L246.95 150.90 L247.20 150.90 L247.45 150.90 L247.70 150.90 L247.95 150.90 L248.20 150.90 L248.45 150.90 L248.70 150.90 L248.95 150.90 L249.20 150.90 L249.45 150.90 L249.70 150.90 L249.95 150.90 L250.20 150.90 L250.45 150.90 L250.70 150.90 L250.95 150.90 L251.20 150.90 L251.45 150.90 L251.70 150.89 L251.95 150.89 L252.20 150.87 L252.45 150.84 L252.70 150.80 L252.95 150.73 L253.20 150.64 L253.45 150.54 L253.70 150.43 L253.95 150.35 L254.20 150.30 L254.45 150.31 L254.70 150.36 L254.95 150.45 L255.20 150.56 L255.45 150.66 L255.70 150.75 L255.95 150.81 L256.20 150.85 L256.45 150.88 L256.70 150.89 L256.95 150.90 L257.20 150.90 L257.45 150.90 L257.70 150.90 L257.95 150.90 L258.20 150.90 L258.45 150.90 L258.70 150.90 L258.95 150.90 L259.20 150.90 L259.45 150.90 L259.70 150.90 L259.95 150.90 L260.20 150.90 L260.45 150.90 L260.70 150.90 L260.95 150.90 L261.20 150.90 L261.45 150.90 L261.70 150.90 L261.95 150.90 L262.20 150.90 L262.45 150.90 L262.70 150.90 L262.95 150.90 L263.20 150.90 L263.45 150.90 L263.70 150.90 L263.95 150.90 L264.20 150.90 L264.45 150.90 L264.70 150.90 L264.95 150.90 L265.20 150.90 L265.45 150.90 L265.70 150.90 L265.95 150.90 L266.20 150.90 L266.45 150.90 L266.70 150.90 L266.95 150.90 L267.20 150.90 L267.45 150.90 L267.70 150.90 L267.95 150.90 L268.20 150.90 L268.45 150.90 L268.70 150.90 L268.95 150.90 L269.20 150.90 L269.45 150.90 L269.70 150.90 L269.95 150.90 L270.20 150.90 L270.45 150.90 L270.70 150.90 L270.95 150.90 L271.20 150.90 L271.45 150.90 L271.70 150.90 L271.95 150.90 L272.20 150.90 L272.45 150.90 L272.70 150.90 L272.95 150.90 L273.20 150.90 L273.45 150.90 L273.70 150.90 L273.95 150.90 L274.20 150.90 L274.45 150.90 L274.70 150.90 L274.95 150.90 L275.20 150.90 L275.45 150.90 L275.70 150.90 L275.95 150.90 L276.20 150.90 L276.45 150.90 L276.70 150.90 L276.95 150.90 L277.20 150.90 L277.45 150.90 L277.70 150.90 L277.95 150.90 L278.20 150.90 L278.45 150.90 L278.70 150.90 L278.95 150.90 L279.20 150.90 L279.45 150.90 L279.70 150.90 L279.95 150.90 L280.20 150.90 L280.45 150.90 L280.70 150.90" fill="none" stroke="#ee2a2a" stroke-width="1.2" stroke-linejoin="round"/>
<path d="M28.20 190.20 L28.45 190.20 L28.70 190.20 L28.95 190.20 L29.20 190.20 L29.45 190.20 L29.70 190.20 L29.95 190.20 L30.20 190.20 L30.45 190.20 L30.70 190.20 L30.95 190.20 L31.20 190.20 L31.45 190.20 L31.70 190.20 L31.95 190.20 L32.20 190.20 L32.45 190.20 L32.70 190.20 L32.95 190.20 L33.20 190.20 L33.45 190.20 L33.70 190.20 L33.95 190.20 L34.20 190.20 L34.45 190.20 L34.70 190.20 L34.95 190.20 L35.20 190.20 L35.45 190.20 L35.70 190.20 L35.95 190.20 L36.20 190.20 L36.45 190.20 L36.70 190.20 L36.95 190.20 L37.20 190.20 L37.45 190.20 L37.70 190.20 L37.95 190.20 L38.20 190.20 L38.45 190.20 L38.70 190.20 L38.95 190.20 L39.20 190.20 L39.45 190.20 L39.70 190.20 L39.95 190.20 L40.20 190.20 L40.45 190.20 L40.70 190.20 L40.95 190.20 L41.20 190.20 L41.45 190.20 L41.70 190.20 L41.95 190.20 L42.20 190.20 L42.45 190.20 L42.70 190.20 L42.95 190.20 L43.20 190.20 L43.45 190.20 L43.70 190.20 L43.95 190.20 L44.20 190.20 L44.45 190.20 L44.70 190.20 L44.95 190.20 L45.20 190.20 L45.45 190.20 L45.70 190.20 L45.95 190.20 L46.20 190.20 L46.45 190.20 L46.70 190.20 L46.95 190.20 L47.20 190.20 L47.45 190.20 L47.70 190.20 L47.95 190.20 L48.20 190.20 L48.45 190.20 L48.70 190.20 L48.95 190.20 L49.20 190.20 L49.45 190.20 L49.70 190.20 L49.95 190.20 L50.20 190.20 L50.45 190.20 L50.70 190.20 L50.95 190.20 L51.20 190.20 L51.45 190.20 L51.70 190.20 L51.95 190.20 L52.20 190.20 L52.45 190.20 L52.70 190.20 L52.95 190.20 L53.20 190.20 L53.45 190.20 L53.70 190.20 L53.95 190.20 L54.20 190.20 L54.45 190.20 L54.70 190.20 L54.95 190.20 L55.20 190.20 L55.45 190.20 L55.70 190.20 L55.95 190.20 L56.20 190.20 L56.45 190.20 L56.70 190.20 L56.95 190.20 L57.20 190.20 L57.45 190.20 L57.70 190.20 L57.95 190.20 L58.20 190.20 L58.45 190.20 L58.70 190.20 L58.95 190.20 L59.20 190.20 L59.45 190.20 L59.70 190.20 L59.95 190.20 L60.20 190.20 L60.45 190.20 L60.70 190.20 L60.95 190.20 L61.20 190.20 L61.45 190.20 L61.70 190.20 L61.95 190.20 L62.20 190.20 L62.45 190.20 L62.70 190.20 L62.95 190.20 L63.20 190.20 L63.45 190.20 L63.70 190.20 L63.95 190.20 L64.20 190.20 L64.45 190.20 L64.70 190.20 L64.95 190.20 L65.20 190.20 L65.45 190.20 L65.70 190.20 L65.95 190.20 L66.20 190.20 L66.45 190.20 L66.70 190.20 L66.95 190.20 L67.20 190.20 L67.45 190.20 L67.70 190.20 L67.95 190.20 L68.20 190.20 L68.45 190.20 L68.70 190.20 L68.95 190.20 L69.20 190.20 L69.45 190.20 L69.70 190.20 L69.95 190.20 L70.20 190.20 L70.45 190.20 L70.70 190.20 L70.95 190.20 L71.20 190.20 L71.45 190.20 L71.70 190.20 L71.95 190.20 L72.20 190.20 L72.45 190.20 L72.70 190.20 L72.95 190.20 L73.20 190.20 L73.45 190.20 L73.70 190.20 L73.95 190.20 L74.20 190.20 L74.45 190.20 L74.70 190.20 L74.95 190.20 L75.20 190.20 L75.45 190.20 L75.70 190.20 L75.95 190.20 L76.20 190.20 L76.45 190.19 L76.70 190.18 L76.95 190.15 L77.20 190.12 L77.45 190.06 L77.70 189.98 L77.95 189.90 L78.20 189.81 L78.45 189.74 L78.70 189.70 L78.95 189.71 L79.20 189.75 L79.45 189.83 L79.70 189.92 L79.95 190.00 L80.20 190.07 L80.45 190.12 L80.70 190.16 L80.95 190.18 L81.20 190.19 L81.45 190.20 L81.70 190.20 L81.95 190.20 L82.20 190.20 L82.45 190.20 L82.70 190.20 L82.95 190.20 L83.20 190.20 L83.45 190.20 L83.70 190.20 L83.95 190.20 L84.20 190.20 L84.45 190.20 L84.70 190.20 L84.95 190.20 L85.20 190.20 L85.45 190.20 L85.70 190.20 L85.95 190.20 L86.20 190.20 L86.45 190.20 L86.70 190.20 L86.95 190.20 L87.20 190.20 L87.45 190.20 L87.70 190.20 L87.95 190.20 L88.20 190.20 L88.45 190.20 L88.70 190.20 L88.95 190.19 L89.20 190.19 L89.45 190.18 L89.70 190.16 L89.95 190.14 L90.20 190.11 L90.45 190.07 L90.70 190.00 L90.95 189.92 L91.20 189.82 L91.45 189.69 L91.70 189.50 L91.95 189.12 L92.20 188.18 L92.45 185.81 L92.70 180.84 L92.95 172.72 L93.20 163.08 L93.45 155.94 L93.70 155.20 L93.95 161.30 L94.20 170.81 L94.45 179.45 L94.70 185.06 L94.95 187.85 L95.20 189.00 L95.45 189.44 L95.70 189.66 L95.95 189.80 L96.20 189.90 L96.45 189.99 L96.70 190.06 L96.95 190.10 L97.20 190.14 L97.45 190.16 L97.70 190.18 L97.95 190.19 L98.20 190.19 L98.45 190.20 L98.70 190.20 L98.95 190.20 L99.20 190.20 L99.45 190.20 L99.70 190.20 L99.95 190.20 L100.20 190.20 L100.45 190.20 L100.70 190.20 L100.95 190.20 L101.20 190.20 L101.45 190.20 L101.70 190.20 L101.95 190.20 L102.20 190.20 L102.45 190.20 L102.70 190.20 L102.95 190.20 L103.20 190.20 L103.45 190.20 L103.70 190.20 L103.95 190.20 L104.20 190.20 L104.45 190.20 L104.70 190.20 L104.95 190.20 L105.20 190.20 L105.45 190.20 L105.70 190.20 L105.95 190.20 L106.20 190.20 L106.45 190.20 L106.70 190.20 L106.95 190.20 L107.20 190.20 L107.45 190.20 L107.70 190.20 L107.95 190.20 L108.20 190.20 L108.45 190.20 L108.70 190.20 L108.95 190.20 L109.20 190.20 L109.45 190.20 L109.70 190.20 L109.95 190.20 L110.20 190.20 L110.45 190.20 L110.70 190.20 L110.95 190.20 L111.20 190.20 L111.45 190.20 L111.70 190.20 L111.95 190.20 L112.20 190.20 L112.45 190.20 L112.70 190.20 L112.95 190.20 L113.20 190.20 L113.45 190.20 L113.70 190.20 L113.95 190.20 L114.20 190.20 L114.45 190.20 L114.70 190.20 L114.95 190.20 L115.20 190.20 L115.45 190.20 L115.70 190.20 L115.95 190.20 L116.20 190.20 L116.45 190.20 L116.70 190.20 L116.95 190.20 L117.20 190.20 L117.45 190.20 L117.70 190.20 L117.95 190.20 L118.20 190.20 L118.45 190.20 L118.70 190.20 L118.95 190.20 L119.20 190.20 L119.45 190.20 L119.70 190.20 L119.95 190.20 L120.20 190.20 L120.45 190.20 L120.70 190.20 L120.95 190.20 L121.20 190.20 L121.45 190.20 L121.70 190.20 L121.95 190.20 L122.20 190.20 L122.45 190.20 L122.70 190.20 L122.95 190.20 L123.20 190.20 L123.45 190.20 L123.70 190.20 L123.95 190.20 L124.20 190.20 L124.45 190.20 L124.70 190.20 L124.95 190.20 L125.20 190.20 L125.45 190.20 L125.70 190.20 L125.95 190.20 L126.20 190.20 L126.45 190.20 L126.70 190.20 L126.95 190.20 L127.20 190.20 L127.45 190.20 L127.70 190.20 L127.95 190.20 L128.20 190.20 L128.45 190.20 L128.70 190.20 L128.95 190.20 L129.20 190.20 L129.45 190.20 L129.70 190.20 L129.95 190.20 L130.20 190.20 L130.45 190.20 L130.70 190.20 L130.95 190.20 L131.20 190.20 L131.45 190.20 L131.70 190.20 L131.95 190.20 L132.20 190.20 L132.45 190.20 L132.70 190.20 L132.95 190.20 L133.20 190.20 L133.45 190.20 L133.70 190.20 L133.95 190.20 L134.20 190.20 L134.45 190.20 L134.70 190.20 L134.95 190.20 L135.20 190.20 L135.45 190.20 L135.70 190.20 L135.95 190.20 L136.20 190.20 L136.45 190.20 L136.70 190.20 L136.95 190.20 L137.20 190.20 L137.45 190.20 L137.70 190.20 L137.95 190.20 L138.20 190.20 L138.45 190.20 L138.70 190.20 L138.95 190.20 L139.20 190.20 L139.45 190.20 L139.70 190.20 L139.95 190.20 L140.20 190.20 L140.45 190.20 L140.70 190.20 L140.95 190.20 L141.20 190.20 L141.45 190.20 L141.70 190.20 L141.95 190.20 L142.20 190.20 L142.45 190.20 L142.70 190.20 L142.95 190.20 L143.20 190.20 L143.45 190.20 L143.70 190.20 L143.95 190.20 L144.20 190.20 L144.45 190.20 L144.70 190.20 L144.95 190.20 L145.20 190.20 L145.45 190.20 L145.70 190.20 L145.95 190.20 L146.20 190.20 L146.45 190.20 L146.70 190.20 L146.95 190.20 L147.20 190.20 L147.45 190.20 L147.70 190.20 L147.95 190.20 L148.20 190.20 L148.45 190.20 L148.70 190.20 L148.95 190.20 L149.20 190.20 L149.45 190.20 L149.70 190.20 L149.95 190.20 L150.20 190.20 L150.45 190.20 L150.70 190.20 L150.95 190.20 L151.20 190.20 L151.45 190.20 L151.70 190.20 L151.95 190.20 L152.20 190.20 L152.45 190.20 L152.70 190.20 L152.95 190.20 L153.20 190.20 L153.45 190.20 L153.70 190.20 L153.95 190.20 L154.20 190.20 L154.45 190.20 L154.70 190.20 L154.95 190.20 L155.20 190.20 L155.45 190.20 L155.70 190.20 L155.95 190.20 L156.20 190.20 L156.45 190.20 L156.70 190.20 L156.95 190.20 L157.20 190.20 L157.45 190.20 L157.70 190.20 L157.95 190.20 L158.20 190.20 L158.45 190.20 L158.70 190.20 L158.95 190.20 L159.20 190.20 L159.45 190.20 L159.70 190.20 L159.95 190.20 L160.20 190.20 L160.45 190.20 L160.70 190.20 L160.95 190.20 L161.20 190.20 L161.45 190.20 L161.70 190.20 L161.95 190.20 L162.20 190.20 L162.45 190.20 L162.70 190.20 L162.95 190.20 L163.20 190.20 L163.45 190.20 L163.70 190.20 L163.95 190.20 L164.20 190.20 L164.45 190.20 L164.70 190.20 L164.95 190.20 L165.20 190.20 L165.45 190.20 L165.70 190.20 L165.95 190.20 L166.20 190.20 L166.45 190.20 L166.70 190.20 L166.95 190.20 L167.20 190.20 L167.45 190.20 L167.70 190.20 L167.95 190.20 L168.20 190.20 L168.45 190.20 L168.70 190.20 L168.95 190.20 L169.20 190.20 L169.45 190.20 L169.70 190.20 L169.95 190.20 L170.20 190.20 L170.45 190.20 L170.70 190.20 L170.95 190.20 L171.20 190.20 L171.45 190.20 L171.70 190.20 L171.95 190.20 L172.20 190.20 L172.45 190.20 L172.70 190.20 L172.95 190.20 L173.20 190.20 L173.45 190.20 L173.70 190.20 L173.95 190.20 L174.20 190.20 L174.45 190.20 L174.70 190.19 L174.95 190.19 L175.20 190.17 L175.45 190.14 L175.70 190.09 L175.95 190.01 L176.20 189.91 L176.45 189.77 L176.70 189.63 L176.95 189.50 L177.20 189.42 L177.45 189.40 L177.70 189.45 L177.95 189.55 L178.20 189.69 L178.45 189.83 L178.70 189.95 L178.95 190.05 L179.20 190.12 L179.45 190.16 L179.70 190.18 L179.95 190.19 L180.20 190.20 L180.45 190.20 L180.70 190.20 L180.95 190.20 L181.20 190.20 L181.45 190.20 L181.70 190.20 L181.95 190.20 L182.20 190.20 L182.45 190.20 L182.70 190.20 L182.95 190.20 L183.20 190.20 L183.45 190.20 L183.70 190.20 L183.95 190.20 L184.20 190.20 L184.45 190.20 L184.70 190.20 L184.95 190.20 L185.20 190.20 L185.45 190.20 L185.70 190.20 L185.95 190.20 L186.20 190.20 L186.45 190.20 L186.70 190.20 L186.95 190.20 L187.20 190.20 L187.45 190.20 L187.70 190.20 L187.95 190.20 L188.20 190.20 L188.45 190.20 L188.70 190.20 L188.95 190.20 L189.20 190.20 L189.45 190.20 L189.70 190.20 L189.95 190.20 L190.20 190.20 L190.45 190.20 L190.70 190.20 L190.95 190.20 L191.20 190.20 L191.45 190.20 L191.70 190.20 L191.95 190.20 L192.20 190.20 L192.45 190.20 L192.70 190.20 L192.95 190.20 L193.20 190.20 L193.45 190.20 L193.70 190.20 L193.95 190.20 L194.20 190.20 L194.45 190.20 L194.70 190.20 L194.95 190.20 L195.20 190.20 L195.45 190.20 L195.70 190.20 L195.95 190.20 L196.20 190.20 L196.45 190.20 L196.70 190.20 L196.95 190.20 L197.20 190.20 L197.45 190.20 L197.70 190.20 L197.95 190.20 L198.20 190.20 L198.45 190.20 L198.70 190.20 L198.95 190.20 L199.20 190.20 L199.45 190.20 L199.70 190.20 L199.95 190.20 L200.20 190.20 L200.45 190.20 L200.70 190.20 L200.95 190.20 L201.20 190.20 L201.45 190.20 L201.70 190.20 L201.95 190.20 L202.20 190.20 L202.45 190.20 L202.70 190.20 L202.95 190.20 L203.20 190.20 L203.45 190.20 L203.70 190.20 L203.95 190.20 L204.20 190.20 L204.45 190.20 L204.70 190.20 L204.95 190.20 L205.20 190.20 L205.45 190.20 L205.70 190.20 L205.95 190.20 L206.20 190.20 L206.45 190.20 L206.70 190.20 L206.95 190.20 L207.20 190.20 L207.45 190.20 L207.70 190.20 L207.95 190.20 L208.20 190.20 L208.45 190.20 L208.70 190.20 L208.95 190.20 L209.20 190.20 L209.45 190.20 L209.70 190.20 L209.95 190.20 L210.20 190.20 L210.45 190.20 L210.70 190.20 L210.95 190.20 L211.20 190.20 L211.45 190.20 L211.70 190.20 L211.95 190.20 L212.20 190.20 L212.45 190.20 L212.70 190.20 L212.95 190.20 L213.20 190.20 L213.45 190.20 L213.70 190.20 L213.95 190.20 L214.20 190.20 L214.45 190.20 L214.70 190.20 L214.95 190.20 L215.20 190.20 L215.45 190.20 L215.70 190.20 L215.95 190.20 L216.20 190.20 L216.45 190.20 L216.70 190.20 L216.95 190.20 L217.20 190.20 L217.45 190.20 L217.70 190.20 L217.95 190.20 L218.20 190.20 L218.45 190.20 L218.70 190.20 L218.95 190.20 L219.20 190.20 L219.45 190.20 L219.70 190.20 L219.95 190.20 L220.20 190.20 L220.45 190.20 L220.70 190.20 L220.95 190.20 L221.20 190.20 L221.45 190.20 L221.70 190.20 L221.95 190.20 L222.20 190.20 L222.45 190.20 L222.70 190.20 L222.95 190.20 L223.20 190.20 L223.45 190.20 L223.70 190.19 L223.95 190.18 L224.20 190.16 L224.45 190.12 L224.70 190.05 L224.95 189.96 L225.20 189.85 L225.45 189.73 L225.70 189.61 L225.95 189.53 L226.20 189.50 L226.45 189.53 L226.70 189.61 L226.95 189.73 L227.20 189.85 L227.45 189.96 L227.70 190.05 L227.95 190.12 L228.20 190.16 L228.45 190.18 L228.70 190.19 L228.95 190.20 L229.20 190.20 L229.45 190.20 L229.70 190.20 L229.95 190.20 L230.20 190.20 L230.45 190.20 L230.70 190.20 L230.95 190.20 L231.20 190.20 L231.45 190.20 L231.70 190.20 L231.95 190.20 L232.20 190.20 L232.45 190.20 L232.70 190.20 L232.95 190.20 L233.20 190.20 L233.45 190.20 L233.70 190.20 L233.95 190.20 L234.20 190.20 L234.45 190.20 L234.70 190.20 L234.95 190.20 L235.20 190.20 L235.45 190.20 L235.70 190.20 L235.95 190.20 L236.20 190.20 L236.45 190.20 L236.70 190.20 L236.95 190.20 L237.20 190.20 L237.45 190.20 L237.70 190.20 L237.95 190.20 L238.20 190.20 L238.45 190.20 L238.70 190.20 L238.95 190.20 L239.20 190.20 L239.45 190.20 L239.70 190.20 L239.95 190.20 L240.20 190.20 L240.45 190.20 L240.70 190.20 L240.95 190.20 L241.20 190.20 L241.45 190.20 L241.70 190.20 L241.95 190.20 L242.20 190.20 L242.45 190.20 L242.70 190.20 L242.95 190.20 L243.20 190.20 L243.45 190.20 L243.70 190.20 L243.95 190.20 L244.20 190.20 L244.45 190.20 L244.70 190.20 L244.95 190.20 L245.20 190.20 L245.45 190.20 L245.70 190.20 L245.95 190.20 L246.20 190.20 L246.45 190.20 L246.70 190.20 L246.95 190.20 L247.20 190.20 L247.45 190.20 L247.70 190.20 L247.95 190.20 L248.20 190.20 L248.45 190.20 L248.70 190.20 L248.95 190.20 L249.20 190.20 L249.45 190.20 L249.70 190.20 L249.95 190.20 L250.20 190.20 L250.45 190.20 L250.70 190.20 L250.95 190.20 L251.20 190.20 L251.45 190.20 L251.70 190.19 L251.95 190.18 L252.20 190.16 L252.45 190.12 L252.70 190.05 L252.95 189.95 L253.20 189.81 L253.45 189.66 L253.70 189.50 L253.95 189.37 L254.20 189.31 L254.45 189.31 L254.70 189.39 L254.95 189.53 L255.20 189.69 L255.45 189.84 L255.70 189.97 L255.95 190.06 L256.20 190.13 L256.45 190.16 L256.70 190.18 L256.95 190.19 L257.20 190.20 L257.45 190.20 L257.70 190.20 L257.95 190.20 L258.20 190.20 L258.45 190.20 L258.70 190.20 L258.95 190.20 L259.20 190.20 L259.45 190.20 L259.70 190.20 L259.95 190.20 L260.20 190.20 L260.45 190.20 L260.70 190.20 L260.95 190.20 L261.20 190.20 L261.45 190.20 L261.70 190.20 L261.95 190.20 L262.20 190.20 L262.45 190.20 L262.70 190.20 L262.95 190.20 L263.20 190.20 L263.45 190.20 L263.70 190.20 L263.95 190.20 L264.20 190.20 L264.45 190.20 L264.70 190.20 L264.95 190.20 L265.20 190.20 L265.45 190.20 L265.70 190.20 L265.95 190.20 L266.20 190.20 L266.45 190.20 L266.70 190.20 L266.95 190.20 L267.20 190.20 L267.45 190.20 L267.70 190.20 L267.95 190.20 L268.20 190.20 L268.45 190.20 L268.70 190.20 L268.95 190.20 L269.20 190.20 L269.45 190.20 L269.70 190.20 L269.95 190.20 L270.20 190.20 L270.45 190.20 L270.70 190.20 L270.95 190.20 L271.20 190.20 L271.45 190.20 L271.70 190.20 L271.95 190.20 L272.20 190.20 L272.45 190.20 L272.70 190.20 L272.95 190.20 L273.20 190.20 L273.45 190.20 L273.70 190.20 L273.95 190.20 L274.20 190.20 L274.45 190.20 L274.70 190.20 L274.95 190.20 L275.20 190.20 L275.45 190.20 L275.70 190.20 L275.95 190.20 L276.20 190.20 L276.45 190.20 L276.70 190.20 L276.95 190.20 L277.20 190.20 L277.45 190.20 L277.70 190.20 L277.95 190.20 L278.20 190.20 L278.45 190.20 L278.70 190.20 L278.95 190.20 L279.20 190.20 L279.45 190.20 L279.70 190.20 L279.95 190.20 L280.20 190.20 L280.45 190.20 L280.70 190.20" fill="none" stroke="#1d3dfa" stroke-width="1.3" stroke-linejoin="round"/>
<line x1="93.80" y1="193.80" x2="93.80" y2="223.5" stroke="#111" stroke-width="1.50"/>
<line x1="177.60" y1="218.00" x2="177.60" y2="223.5" stroke="#111" stroke-width="1.30"/>
<line x1="190.70" y1="221.00" x2="190.70" y2="223.5" stroke="#111" stroke-width="1.10"/>
<line x1="226.00" y1="219.00" x2="226.00" y2="223.5" stroke="#111" stroke-width="1.30"/>
<line x1="253.50" y1="221.00" x2="253.50" y2="223.5" stroke="#111" stroke-width="1.10"/>
<line x1="278.50" y1="221.50" x2="278.50" y2="223.5" stroke="#111" stroke-width="1.00"/>
<text transform="matrix(1.0069 0 0 1 36.144 96.200)" font-family="Liberation Sans, sans-serif" font-weight="normal" font-size="9.157" fill="#222" stroke="#222" stroke-width="0.30">BN</text>
<text transform="matrix(0.9117 0 0 1 34.672 142.100)" font-family="Liberation Sans, sans-serif" font-weight="normal" font-size="9.738" fill="#f01818" stroke="#f01818" stroke-width="0.30">BN-PDA</text>
<text transform="matrix(0.9135 0 0 1 28.081 183.900)" font-family="Liberation Sans, sans-serif" font-weight="normal" font-size="9.599" fill="#1c1cee" stroke="#1c1cee" stroke-width="0.30">BN-PDA-KH550</text>
<text transform="matrix(0.8967 0 0 1 214.237 210.100)" font-family="Liberation Serif, serif" font-weight="bold" font-size="10.651" fill="#111" stroke="#111" stroke-width="0.30">PDF#09-0012</text>
<text transform="matrix(0 -0.9438 1 0 77.000 56.391)" font-family="Liberation Sans, sans-serif" font-weight="normal" font-size="10.602" fill="#222" stroke="#222" stroke-width="0.35">002</text>
<path d="M68.90 37.70 C70.30 33.20 76.30 33.20 77.70 37.70" fill="none" stroke="#3a3a3a" stroke-width="0.95"/>
<path d="M68.90 58.50 C70.30 63.00 76.30 63.00 77.70 58.50" fill="none" stroke="#3a3a3a" stroke-width="0.95"/>
<text transform="matrix(0 -0.9595 1 0 180.600 81.175)" font-family="Liberation Sans, sans-serif" font-weight="normal" font-size="10.602" fill="#222" stroke="#222" stroke-width="0.35">100</text>
<path d="M172.50 62.10 C173.90 57.60 179.90 57.60 181.30 62.10" fill="none" stroke="#3a3a3a" stroke-width="0.95"/>
<path d="M172.50 82.90 C173.90 87.40 179.90 87.40 181.30 82.90" fill="none" stroke="#3a3a3a" stroke-width="0.95"/>
<text transform="matrix(0 -0.9656 1 0 192.700 81.180)" font-family="Liberation Sans, sans-serif" font-weight="normal" font-size="10.602" fill="#222" stroke="#222" stroke-width="0.35">101</text>
<path d="M184.60 62.10 C186.00 57.60 192.00 57.60 193.40 62.10" fill="none" stroke="#3a3a3a" stroke-width="0.95"/>
<path d="M184.60 82.90 C186.00 87.40 192.00 87.40 193.40 82.90" fill="none" stroke="#3a3a3a" stroke-width="0.95"/>
<text transform="matrix(0 -0.9665 1 0 229.700 84.280)" font-family="Liberation Sans, sans-serif" font-weight="normal" font-size="10.602" fill="#222" stroke="#222" stroke-width="0.35">102</text>
<path d="M221.60 65.20 C223.00 60.70 229.00 60.70 230.40 65.20" fill="none" stroke="#3a3a3a" stroke-width="0.95"/>
<path d="M221.60 86.00 C223.00 90.50 229.00 90.50 230.40 86.00" fill="none" stroke="#3a3a3a" stroke-width="0.95"/>
<text transform="matrix(0 -0.9314 1 0 254.000 84.286)" font-family="Liberation Sans, sans-serif" font-weight="normal" font-size="10.602" fill="#222" stroke="#222" stroke-width="0.35">004</text>
<path d="M245.90 65.60 C247.30 61.10 253.30 61.10 254.70 65.60" fill="none" stroke="#3a3a3a" stroke-width="0.95"/>
<path d="M245.90 86.40 C247.30 90.90 253.30 90.90 254.70 86.40" fill="none" stroke="#3a3a3a" stroke-width="0.95"/>
<text transform="matrix(0 -1.0344 1 0 14.800 161.635)" font-family="Liberation Sans, sans-serif" font-weight="normal" font-size="12.936" fill="#1a1a1a" stroke="#1a1a1a" stroke-width="0.15">Intensity(a.u.)</text>
<text transform="matrix(0.8832 0 0 1 113.487 253.100)" font-family="Liberation Sans, sans-serif" font-weight="normal" font-size="13.793" fill="#1a1a1a" stroke="#1a1a1a" stroke-width="0.12">2 Theta</text>
<text transform="matrix(0.9283 0 0 1 157.254 253.000)" font-family="Liberation Sans, sans-serif" font-weight="normal" font-size="12.966" fill="#1a1a1a" stroke="#1a1a1a" stroke-width="0.12">(degree)</text>
<text transform="matrix(0.7795 0 0 1 0.229 13.316)" font-family="Liberation Sans, sans-serif" font-weight="bold" font-size="17.272" fill="#111" stroke="#111" stroke-width="0.45">(</text>
<text transform="matrix(0.9605 0 0 1 6.327 13.036)" font-family="Liberation Sans, sans-serif" font-weight="bold" font-size="16.793" fill="#111" stroke="#111" stroke-width="0.45">a</text>
<text transform="matrix(0.7385 0 0 1 16.888 13.316)" font-family="Liberation Sans, sans-serif" font-weight="bold" font-size="17.272" fill="#111" stroke="#111" stroke-width="0.45">)</text>
<text transform="matrix(0.9118 0 0 1 312.706 13.471)" font-family="Liberation Sans, sans-serif" font-weight="bold" font-size="17.487" fill="#111" stroke="#111" stroke-width="0.45">(</text>
<text transform="matrix(1.0328 0 0 1 318.923 13.431)" font-family="Liberation Sans, sans-serif" font-weight="bold" font-size="17.294" fill="#111" stroke="#111" stroke-width="0.45">b</text>
<text transform="matrix(0.9321 0 0 1 330.384 13.471)" font-family="Liberation Sans, sans-serif" font-weight="bold" font-size="17.487" fill="#111" stroke="#111" stroke-width="0.45">)</text>
<line x1="340.6" y1="20.3" x2="593.50" y2="20.3" stroke="#141414" stroke-width="1.4"/>
<line x1="342.40" y1="20.3" x2="342.40" y2="225.0" stroke="#1e1e1e" stroke-width="1.25"/>
<line x1="341.80" y1="223.3" x2="592.90" y2="223.3" stroke="#222" stroke-width="1.25"/>
<line x1="592.90" y1="19.6" x2="592.90" y2="227.1" stroke="#555" stroke-width="1.4"/>
<line x1="338.60" y1="223.30" x2="342.40" y2="223.30" stroke="#333" stroke-width="1.2"/>
<text transform="matrix(1.0390 0 0 1 323.898 226.850)" font-family="Liberation Sans, sans-serif" font-weight="normal" font-size="10.315" fill="#1a1a1a" stroke="#1a1a1a" stroke-width="0.30">90</text>
<line x1="340.60" y1="204.77" x2="342.40" y2="204.77" stroke="#333" stroke-width="1.2"/>
<line x1="338.60" y1="186.24" x2="342.40" y2="186.24" stroke="#333" stroke-width="1.2"/>
<text transform="matrix(1.0505 0 0 1 323.892 189.790)" font-family="Liberation Sans, sans-serif" font-weight="normal" font-size="10.315" fill="#1a1a1a" stroke="#1a1a1a" stroke-width="0.30">92</text>
<line x1="340.60" y1="167.71" x2="342.40" y2="167.71" stroke="#333" stroke-width="1.2"/>
<line x1="338.60" y1="149.18" x2="342.40" y2="149.18" stroke="#333" stroke-width="1.2"/>
<text transform="matrix(1.0292 0 0 1 323.902 152.730)" font-family="Liberation Sans, sans-serif" font-weight="normal" font-size="10.315" fill="#1a1a1a" stroke="#1a1a1a" stroke-width="0.30">94</text>
<line x1="340.60" y1="130.65" x2="342.40" y2="130.65" stroke="#333" stroke-width="1.2"/>
<line x1="338.60" y1="112.12" x2="342.40" y2="112.12" stroke="#333" stroke-width="1.2"/>
<text transform="matrix(1.0440 0 0 1 323.895 115.670)" font-family="Liberation Sans, sans-serif" font-weight="normal" font-size="10.315" fill="#1a1a1a" stroke="#1a1a1a" stroke-width="0.30">96</text>
<line x1="340.60" y1="93.59" x2="342.40" y2="93.59" stroke="#333" stroke-width="1.2"/>
<line x1="338.60" y1="75.06" x2="342.40" y2="75.06" stroke="#333" stroke-width="1.2"/>
<text transform="matrix(1.0435 0 0 1 323.895 78.610)" font-family="Liberation Sans, sans-serif" font-weight="normal" font-size="10.315" fill="#1a1a1a" stroke="#1a1a1a" stroke-width="0.30">98</text>
<line x1="340.60" y1="56.53" x2="342.40" y2="56.53" stroke="#333" stroke-width="1.2"/>
<line x1="338.60" y1="38.00" x2="342.40" y2="38.00" stroke="#333" stroke-width="1.2"/>
<text transform="matrix(1.0111 0 0 1 318.406 41.550)" font-family="Liberation Sans, sans-serif" font-weight="normal" font-size="10.315" fill="#1a1a1a" stroke="#1a1a1a" stroke-width="0.30">100</text>
<line x1="342.40" y1="223.3" x2="342.40" y2="225.70" stroke="#333" stroke-width="1.2"/>
<line x1="361.67" y1="223.3" x2="361.67" y2="227.10" stroke="#333" stroke-width="1.2"/>
<text transform="matrix(1.0404 0 0 1 352.390 237.900)" font-family="Liberation Sans, sans-serif" font-weight="normal" font-size="10.458" fill="#1a1a1a" stroke="#1a1a1a" stroke-width="0.30">100</text>
<line x1="380.94" y1="223.3" x2="380.94" y2="225.70" stroke="#333" stroke-width="1.2"/>
<line x1="400.21" y1="223.3" x2="400.21" y2="227.10" stroke="#333" stroke-width="1.2"/>
<text transform="matrix(1.0233 0 0 1 391.219 237.900)" font-family="Liberation Sans, sans-serif" font-weight="normal" font-size="10.458" fill="#1a1a1a" stroke="#1a1a1a" stroke-width="0.30">200</text>
<line x1="419.48" y1="223.3" x2="419.48" y2="225.70" stroke="#333" stroke-width="1.2"/>
<line x1="438.75" y1="223.3" x2="438.75" y2="227.10" stroke="#333" stroke-width="1.2"/>
<text transform="matrix(1.0155 0 0 1 429.892 237.900)" font-family="Liberation Sans, sans-serif" font-weight="normal" font-size="10.458" fill="#1a1a1a" stroke="#1a1a1a" stroke-width="0.30">300</text>
<line x1="458.02" y1="223.3" x2="458.02" y2="225.70" stroke="#333" stroke-width="1.2"/>
<line x1="477.28" y1="223.3" x2="477.28" y2="227.10" stroke="#333" stroke-width="1.2"/>
<text transform="matrix(1.0059 0 0 1 468.593 237.900)" font-family="Liberation Sans, sans-serif" font-weight="normal" font-size="10.458" fill="#1a1a1a" stroke="#1a1a1a" stroke-width="0.30">400</text>
<line x1="496.55" y1="223.3" x2="496.55" y2="225.70" stroke="#333" stroke-width="1.2"/>
<line x1="515.82" y1="223.3" x2="515.82" y2="227.10" stroke="#333" stroke-width="1.2"/>
<text transform="matrix(1.0167 0 0 1 506.947 237.900)" font-family="Liberation Sans, sans-serif" font-weight="normal" font-size="10.458" fill="#1a1a1a" stroke="#1a1a1a" stroke-width="0.30">500</text>
<line x1="535.09" y1="223.3" x2="535.09" y2="225.70" stroke="#333" stroke-width="1.2"/>
<line x1="554.36" y1="223.3" x2="554.36" y2="227.10" stroke="#333" stroke-width="1.2"/>
<text transform="matrix(1.0236 0 0 1 545.368 237.900)" font-family="Liberation Sans, sans-serif" font-weight="normal" font-size="10.458" fill="#1a1a1a" stroke="#1a1a1a" stroke-width="0.30">600</text>
<line x1="573.63" y1="223.3" x2="573.63" y2="225.70" stroke="#333" stroke-width="1.2"/>
<line x1="592.90" y1="223.3" x2="592.90" y2="227.10" stroke="#333" stroke-width="1.2"/>
<text transform="matrix(1.0239 0 0 1 583.901 237.900)" font-family="Liberation Sans, sans-serif" font-weight="normal" font-size="10.458" fill="#1a1a1a" stroke="#1a1a1a" stroke-width="0.30">700</text>
<path d="M342.30 37.90 C343.58 38.18 347.05 39.18 350.00 39.60 C352.95 40.02 356.67 40.18 360.00 40.40 C363.33 40.62 363.33 40.68 370.00 40.90 C376.67 41.12 391.67 41.30 400.00 41.70 C408.33 42.10 413.33 42.65 420.00 43.30 C426.67 43.95 435.00 44.92 440.00 45.60 C445.00 46.28 445.67 46.53 450.00 47.40 C454.33 48.27 460.50 49.68 466.00 50.80 C471.50 51.92 477.33 53.03 483.00 54.10 C488.67 55.17 494.33 55.95 500.00 57.20 C505.67 58.45 511.50 60.37 517.00 61.60 C522.50 62.83 527.50 63.53 533.00 64.60 C538.50 65.67 544.50 66.97 550.00 68.00 C555.50 69.03 560.50 69.78 566.00 70.80 C571.50 71.82 578.50 73.25 583.00 74.10 C587.50 74.95 591.33 75.60 593.00 75.90" fill="none" stroke="#ff1a1a" stroke-width="1.7" stroke-linejoin="round"/>
<path d="M342.30 37.90 C343.58 38.57 347.05 40.38 350.00 41.90 C352.95 43.42 356.67 45.72 360.00 47.00 C363.33 48.28 366.67 48.82 370.00 49.60 C373.33 50.38 376.67 50.97 380.00 51.70 C383.33 52.43 386.67 53.03 390.00 54.00 C393.33 54.97 395.00 55.77 400.00 57.50 C405.00 59.23 413.33 61.95 420.00 64.40 C426.67 66.85 433.33 69.27 440.00 72.20 C446.67 75.13 453.33 78.62 460.00 82.00 C466.67 85.38 473.33 88.95 480.00 92.50 C486.67 96.05 493.33 99.78 500.00 103.30 C506.67 106.82 515.00 111.15 520.00 113.60 C525.00 116.05 526.67 116.50 530.00 118.00 C533.33 119.50 535.00 120.23 540.00 122.60 C545.00 124.97 553.33 129.38 560.00 132.20 C566.67 135.02 574.50 137.47 580.00 139.50 C585.50 141.53 590.83 143.58 593.00 144.40" fill="none" stroke="#1f3fff" stroke-width="1.7" stroke-linejoin="round"/>
<path d="M342.3 37.90 L343.8 37.98 L345.3 37.83 L346.8 37.87 L348.3 38.00 L349.8 38.02 L351.3 38.63 L352.8 38.46 L354.3 38.49 L355.8 38.49 L357.3 38.66 L358.8 38.69 L360.3 38.97 L361.8 38.79 L363.3 39.14 L364.8 39.16 L366.3 39.22 L367.8 39.17 L369.3 38.80 L370.8 39.02 L372.3 39.35 L373.8 39.04 L375.3 39.23 L376.8 39.02 L378.3 39.48 L379.8 39.18 L381.3 39.24 L382.8 39.59 L384.3 39.12 L385.8 39.10 L387.3 39.43 L388.8 39.48 L390.3 39.29 L391.8 39.52 L393.3 39.82 L394.8 39.94 L396.3 40.00 L397.8 39.95 L399.3 39.48 L400.8 39.72 L402.3 39.82 L403.8 39.56 L405.3 40.12 L406.8 39.80 L408.3 40.18 L409.8 40.14 L411.3 39.89 L412.8 39.98 L414.3 40.09 L415.8 39.94 L417.3 39.85 L418.8 40.17 L420.3 40.07 L421.8 40.12 L423.3 40.53 L424.8 40.53 L426.3 40.33 L427.8 40.09 L429.3 40.64 L430.8 40.33 L432.3 40.25 L433.8 40.74 L435.3 40.88 L436.8 40.46 L438.3 40.69 L439.8 40.97 L441.3 40.79 L442.8 40.75 L444.3 40.70 L445.8 40.69 L447.3 41.38 L448.8 41.40 L450.3 41.04 L451.8 41.45 L453.3 41.22 L454.8 41.69 L456.3 41.51 L457.8 41.82 L459.3 41.79 L460.8 41.53 L462.3 41.90 L463.8 41.99 L465.3 41.60 L466.8 41.63 L468.3 41.83 L469.8 42.18 L471.3 42.39 L472.8 42.05 L474.3 42.37 L475.8 42.30 L477.3 42.03 L478.8 42.19 L480.3 42.50 L481.8 42.28 L483.3 42.33 L484.8 42.51 L486.3 42.15 L487.8 42.40 L489.3 42.47 L490.8 42.54 L492.3 42.66 L493.8 42.40 L495.3 42.58 L496.8 42.60 L498.3 42.38 L499.8 42.90 L501.3 43.07 L502.8 42.85 L504.3 42.81 L505.8 42.84 L507.3 42.96 L508.8 42.96 L510.3 42.95 L511.8 43.49 L513.3 43.14 L514.8 43.09 L516.3 43.46 L517.8 43.07 L519.3 43.37 L520.8 43.57 L522.3 43.82 L523.8 43.51 L525.3 43.40 L526.8 44.10 L528.3 43.49 L529.8 43.83 L531.3 43.96 L532.8 44.35 L534.3 43.97 L535.8 43.95 L537.3 44.04 L538.8 44.16 L540.3 44.06 L541.8 44.63 L543.3 44.40 L544.8 44.59 L546.3 44.31 L547.8 44.62 L549.3 44.83 L550.8 44.40 L552.3 44.94 L553.8 44.51 L555.3 44.86 L556.8 45.05 L558.3 44.76 L559.8 45.12 L561.3 44.79 L562.8 44.86 L564.3 45.24 L565.8 45.05 L567.3 44.71 L568.8 44.82 L570.3 45.12 L571.8 45.03 L573.3 44.87 L574.8 45.44 L576.3 45.14 L577.8 45.58 L579.3 45.24 L580.8 45.16 L582.3 45.36 L583.8 45.69 L585.3 45.78 L586.8 45.58 L588.3 45.40 L589.8 45.63 L591.3 45.49 L592.8 45.60 L593.0 45.70" fill="none" stroke="#111" stroke-width="1.55" stroke-linejoin="round"/>
<line x1="363.8" y1="167.60" x2="386.2" y2="167.60" stroke="#111" stroke-width="1.6"/>
<line x1="363.8" y1="180.30" x2="386.2" y2="180.30" stroke="#ff1a1a" stroke-width="1.6"/>
<line x1="363.8" y1="193.20" x2="386.2" y2="193.20" stroke="#1f3fff" stroke-width="1.6"/>
<text transform="matrix(1.0865 0 0 1 387.997 171.500)" font-family="Liberation Sans, sans-serif" font-weight="normal" font-size="9.012" fill="#1a1a1a" stroke="#1a1a1a" stroke-width="0.30">BN</text>
<text transform="matrix(1.0317 0 0 1 388.025 184.200)" font-family="Liberation Sans, sans-serif" font-weight="normal" font-size="9.157" fill="#1a1a1a" stroke="#1a1a1a" stroke-width="0.30">BN-PDA</text>
<text transform="matrix(1.0734 0 0 1 388.018 196.600)" font-family="Liberation Sans, sans-serif" font-weight="normal" font-size="8.883" fill="#1a1a1a" stroke="#1a1a1a" stroke-width="0.30">BN-PDA-KH550</text>
<text transform="matrix(0 -0.9402 1 0 310.700 152.958)" font-family="Liberation Sans, sans-serif" font-weight="normal" font-size="14.099" fill="#1a1a1a" stroke="#1a1a1a" stroke-width="0.15">Weight</text>
<text transform="matrix(0 -1.0288 1 0 310.700 108.354)" font-family="Liberation Sans, sans-serif" font-weight="normal" font-size="13.379" fill="#1a1a1a" stroke="#1a1a1a" stroke-width="0.15">(%)</text>
<text transform="matrix(0.9754 0 0 1 411.897 256.100)" font-family="Liberation Sans, sans-serif" font-weight="normal" font-size="13.808" fill="#1a1a1a" stroke="#1a1a1a" stroke-width="0.12">Temperature</text>
<text transform="matrix(1.0284 0 0 1 490.958 256.067)" font-family="Liberation Sans, sans-serif" font-weight="normal" font-size="13.203" fill="#1a1a1a" stroke="#1a1a1a" stroke-width="0.25">(</text>
<text transform="matrix(1.0579 0 0 1 498.494 256.872)" font-family="Liberation Sans, sans-serif" font-weight="normal" font-size="13.135" fill="#1a1a1a" stroke="#1a1a1a" stroke-width="0.2">C</text>
<text transform="matrix(0.9999 0 0 1 509.923 256.067)" font-family="Liberation Sans, sans-serif" font-weight="normal" font-size="13.203" fill="#1a1a1a" stroke="#1a1a1a" stroke-width="0.25">)</text>
<circle cx="498.2" cy="247.8" r="1.05" fill="none" stroke="#1a1a1a" stroke-width="0.7"/>
</svg>
</body></html>
